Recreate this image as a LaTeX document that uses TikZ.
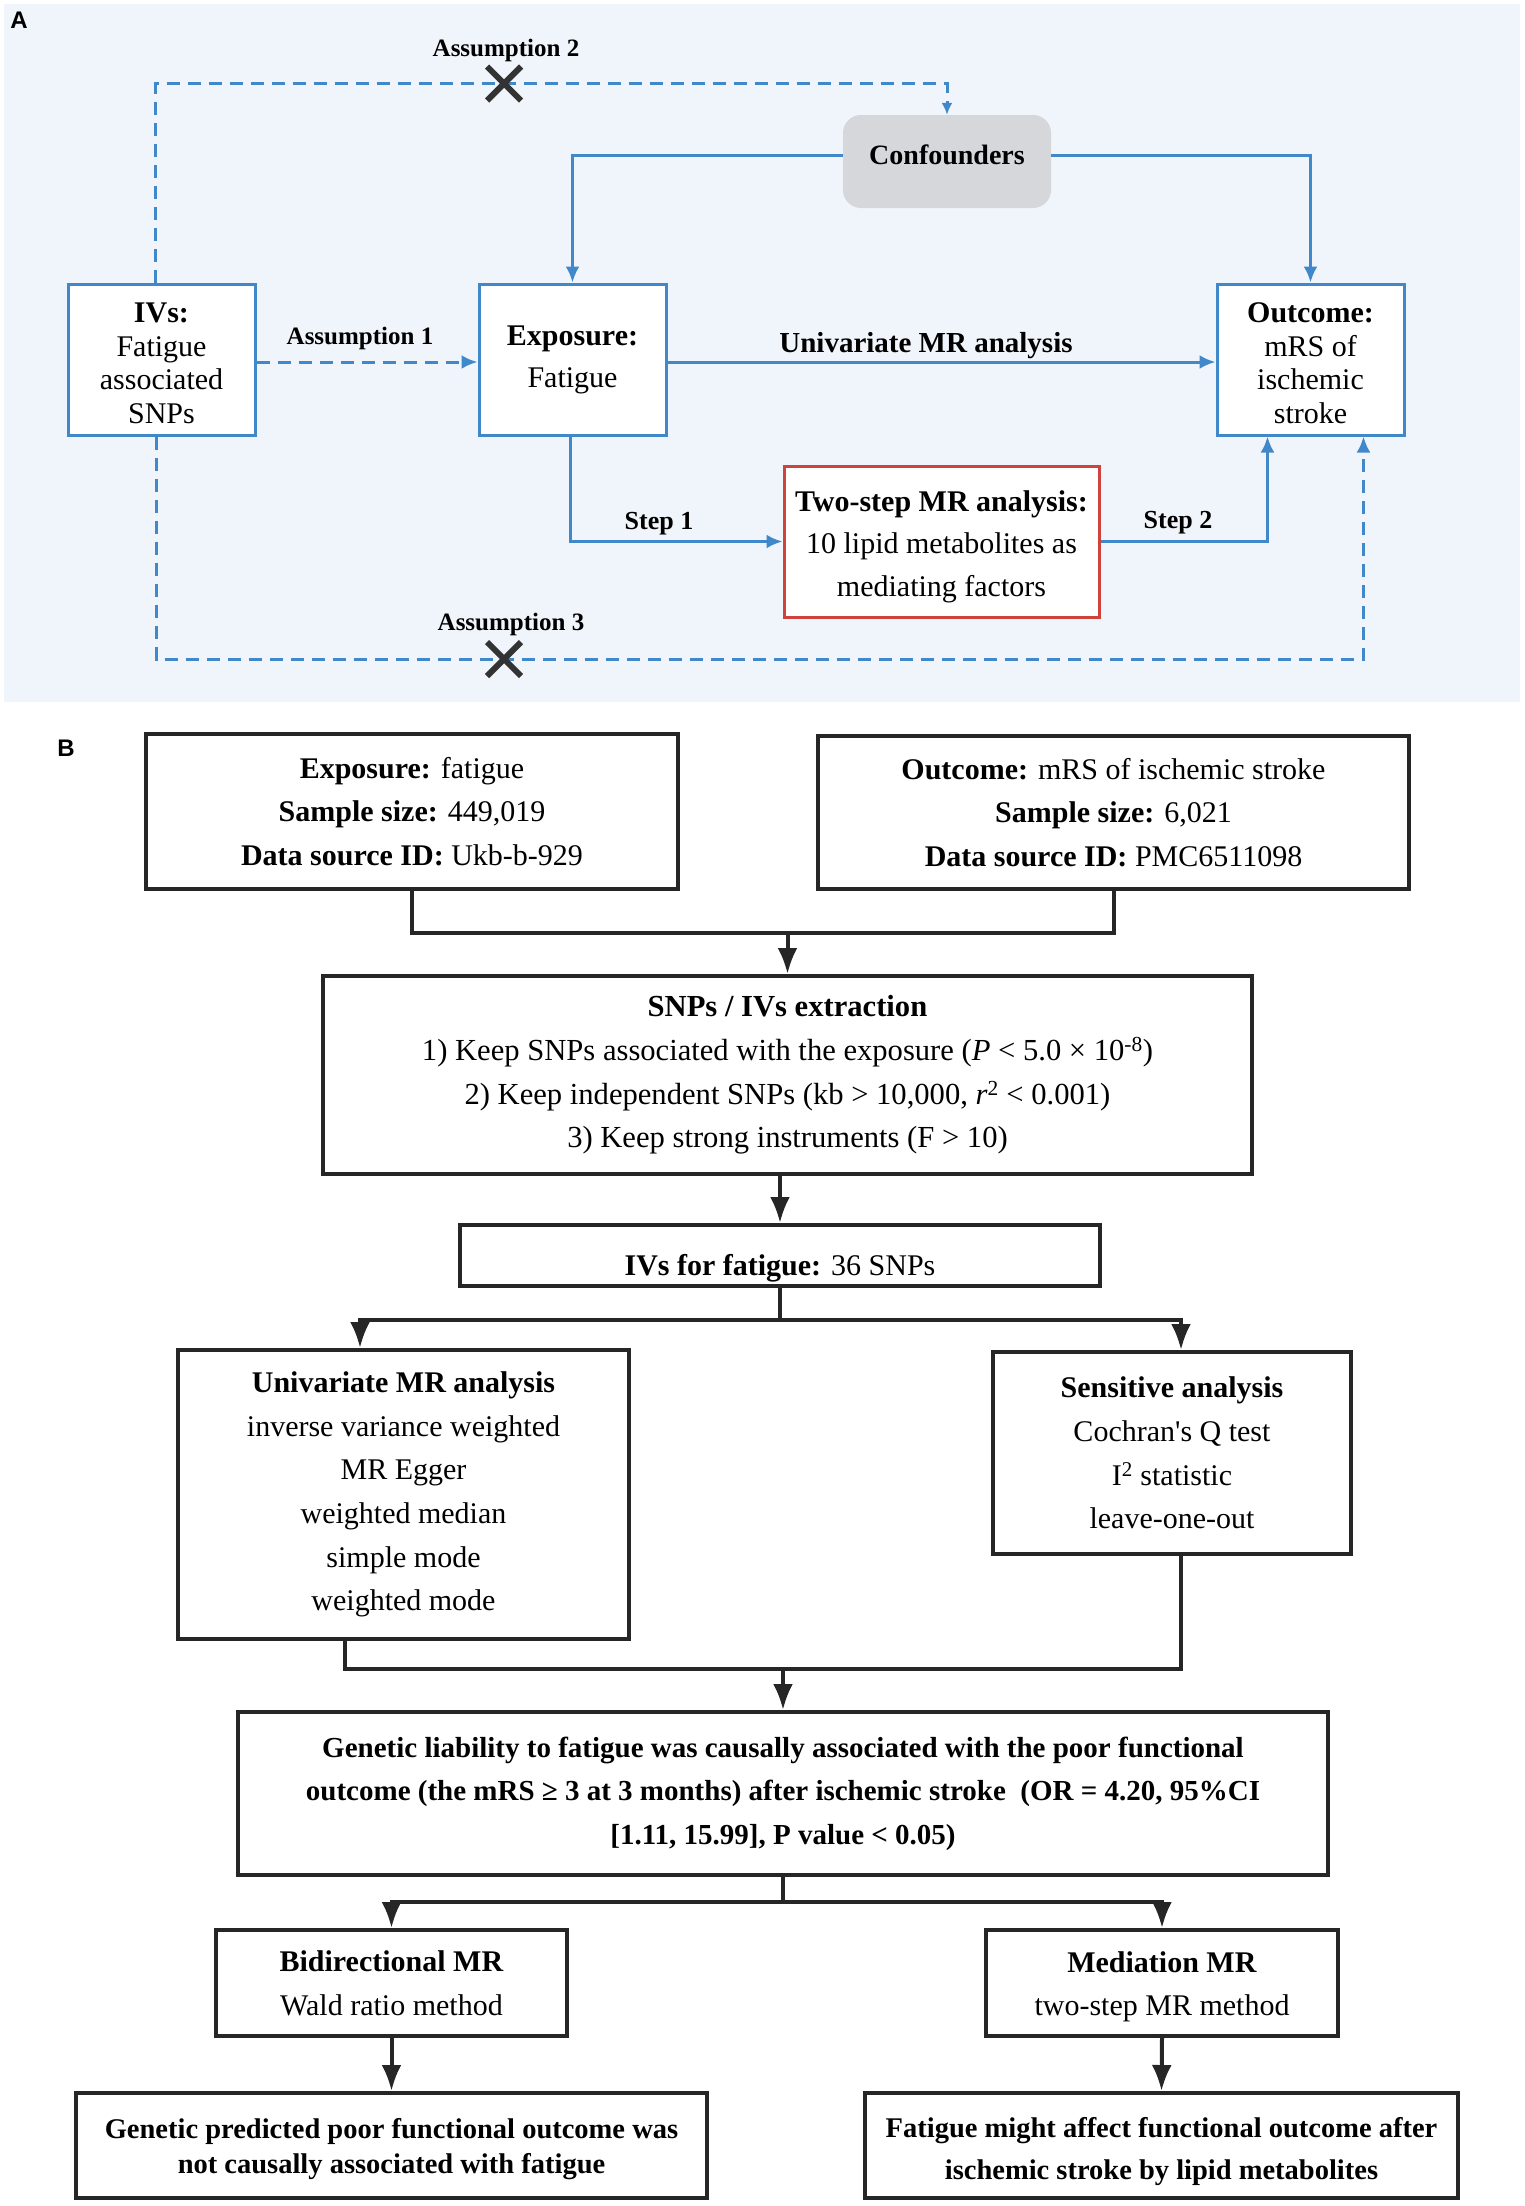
\documentclass[tikz,border=0pt]{standalone}
\usepackage{fontspec}
\setmainfont{Liberation Serif}
\setsansfont{Liberation Sans}
\usetikzlibrary{arrows.meta,shapes.misc}
\definecolor{abg}{HTML}{F0F5FB}
\definecolor{ablue}{HTML}{4088C9}
\definecolor{ared}{HTML}{D0423C}
\definecolor{agray}{HTML}{D5D7DB}
\tikzstyle{line}=[line width=3pt,ablue]
\tikzstyle{arrow}=[line,-{Latex[length=16pt,width=14pt]}]
\tikzstyle{dasharrow}=[arrow,dash pattern=on 13pt off 8pt]
\tikzstyle{abox}=[draw=ablue,line width=3pt,fill=white,align=center,inner sep=0pt,
  font=\fontsize{30}{33.5}\selectfont,minimum width=187pt,minimum height=151pt]
\tikzstyle{alabel}=[inner sep=0pt,font=\bfseries\fontsize{25}{30}\selectfont]
\tikzstyle{xmark}=[draw=black!80,cross out,line width=6pt,minimum size=28pt,inner sep=0pt]
\tikzstyle{panel}=[inner sep=0pt,font=\sffamily\bfseries\fontsize{24}{28}\selectfont]
\tikzstyle{bline}=[line width=4pt,black!85]
\tikzstyle{barrow}=[bline,-{Latex[length=26pt,width=20pt]}]
\tikzstyle{bbox}=[draw=black!85,line width=4pt,align=center,inner sep=0pt,
  font=\fontsize{30}{43.6}\selectfont]
\begin{document}
\begin{tikzpicture}[x=1pt,y=-1pt]
  \useasboundingbox (0,0) rectangle (1524,2206);
  % panel A
  \fill[abg] (4,4) rectangle (1520,702);
  \node[panel] (labA) at (19,20) {A};
  \node[abox] (ivs) at (161.5,359.5) {\rule{0pt}{27pt}\textbf{IVs:}\\Fatigue\\associated\\SNPs};
  \node[abox,font=\fontsize{30}{42}\selectfont] (exp) at (572.5,359.5) {\textbf{Exposure:}\\Fatigue};
  \node[abox] (out) at (1310.5,359.5) {\rule{0pt}{27pt}\textbf{Outcome:}\\mRS of\\ischemic\\stroke};
  \node[fill=agray,rounded corners=18pt,minimum width=208pt,minimum height=93pt,inner sep=0pt,
    font=\bfseries\fontsize{28}{34}\selectfont] (conf) at (947,161.5) {\rule[-13.5pt]{0pt}{13.5pt}Confounders};
  \node[abox,draw=ared,minimum width=315pt,font=\fontsize{30}{42.5}\selectfont] (two) at (941.5,541.5)
    {\rule{0pt}{31pt}\textbf{Two-step MR analysis:}\\10 lipid metabolites as\\mediating factors};
  \coordinate (a2) at (504,83.5);
  \coordinate (a3) at (504,659);
  \draw[arrow] ([yshift=6pt]conf.west) -| (exp.north);
  \draw[arrow] ([yshift=6pt]conf.east) -| (out.north);
  \draw[arrow] ([yshift=-2.5pt]exp.east) -- ([yshift=-2.5pt]out.west);
  \draw[dasharrow] ([yshift=-2.5pt]ivs.east) -- ([yshift=-2.5pt]exp.west);
  \draw[arrow] ([xshift=-2.5pt]exp.south) |- (two.west);
  \draw[arrow] (two.east) -| ([xshift=-43pt]out.south);
  \draw[dasharrow,-{Latex[length=12pt,width=11pt]}] ([xshift=-6pt]ivs.north) |- (a2) -| (conf.north);
  \draw[dasharrow] ([xshift=-5pt]ivs.south) |- (a3) -| ([xshift=53pt]out.south);
  \node[xmark] (x2) at (a2) {};
  \node[xmark] (x3) at (a3) {};
  \node[alabel] (lab2) at (506,50) {Assumption 2};
  \node[alabel] (lab1) at (360,338) {Assumption 1};
  \node[alabel,font=\bfseries\fontsize{29}{32}\selectfont] (labU) at (926,346) {Univariate MR analysis};
  \node[alabel,font=\bfseries\fontsize{26}{30}\selectfont] (labS1) at (659,524) {Step 1};
  \node[alabel,font=\bfseries\fontsize{26}{30}\selectfont] (labS2) at (1178,523) {Step 2};
  \node[alabel] (lab3) at (511,624) {Assumption 3};
  % panel B
  \node[panel] (labB) at (66,748) {B};
  \node[bbox,minimum width=532pt,minimum height=155pt] (bexp) at (412,811.5)
    {\textbf{Exposure:} fatigue\\\textbf{Sample size:} 449,019\\\textbf{Data source ID:} Ukb-b-929};
  \node[bbox,minimum width=591pt,minimum height=153pt] (bout) at (1113.5,812.5)
    {\textbf{Outcome:} mRS of ischemic stroke\\\textbf{Sample size:} 6,021\\\textbf{Data source ID:} PMC6511098};
  \node[bbox,minimum width=929pt,minimum height=198pt,font=\fontsize{30.6}{43.6}\selectfont] (snp) at (787.5,1075)
    {\textbf{SNPs / IVs extraction}\\
     1) Keep SNPs associated with the exposure (\textit{P} < 5.0 × 10\textsuperscript{-8})\\
     2) Keep independent SNPs (kb > 10,000, \textit{r}\textsuperscript{2} < 0.001)\\
     3) Keep strong instruments (F > 10)};
  \node[bbox,minimum width=640pt,minimum height=61pt] (ivf) at (780,1255.5)
    {\rule{0pt}{46pt}\textbf{IVs for fatigue:} 36 SNPs};
  \node[bbox,minimum width=451pt,minimum height=289pt] (uni) at (403.5,1494.5)
    {\textbf{Univariate MR analysis}\\inverse variance weighted\\MR Egger\\weighted median\\simple mode\\weighted mode};
  \node[bbox,minimum width=358pt,minimum height=202pt] (sens) at (1172,1453)
    {\textbf{Sensitive analysis}\\Cochran\textquotesingle s Q test\\I\textsuperscript{2} statistic\\leave-one-out};
  \node[bbox,minimum width=1090pt,minimum height=163pt,font=\bfseries\fontsize{29}{43.6}\selectfont] (gen) at (783,1793.5)
    {Genetic liability to fatigue was causally associated with the poor functional\\
     outcome (the mRS ≥ 3 at 3 months) after ischemic stroke\ \ (OR = 4.20, 95\%CI\\
     {}[1.11, 15.99], P value < 0.05)};
  \node[bbox,minimum width=351pt,minimum height=106pt] (bid) at (391.5,1983)
    {\textbf{Bidirectional MR}\\Wald ratio method};
  \node[bbox,minimum width=352pt,minimum height=106pt] (med) at (1162,1983)
    {\rule{0pt}{28pt}\textbf{Mediation MR}\\two-step MR method};
  \node[bbox,minimum width=631pt,minimum height=105pt,font=\bfseries\fontsize{28.5}{35}\selectfont] (res1) at (391.5,2145.5)
    {\rule{0pt}{27pt}Genetic predicted poor functional outcome was\\not causally associated with fatigue};
  \node[bbox,minimum width=593pt,minimum height=105pt,font=\bfseries\fontsize{28.5}{42}\selectfont] (res2) at (1161.5,2145.5)
    {\rule{0pt}{33pt}Fatigue might affect functional outcome after\\ischemic stroke by lipid metabolites};
  \coordinate (m1) at (787.5,933);
  \coordinate (m2) at (780,1320);
  \coordinate (m3) at (783,1669);
  \coordinate (m4) at (783,1902);
  \draw[bline] (bexp.south) |- (m1) -| (bout.south);
  \draw[barrow] (m1) -- (snp.north);
  \draw[barrow] (ivf.north |- snp.south) -- (ivf.north);
  \draw[bline] (ivf.south) -- (m2);
  \draw[barrow] (m2) -| ([xshift=-43.5pt]uni.north);
  \draw[barrow] (m2) -| ([xshift=9pt]sens.north);
  \draw[bline] ([xshift=-58.5pt]uni.south) |- (m3) -| ([xshift=9pt]sens.south);
  \draw[barrow] (m3) -- (gen.north);
  \draw[bline] (gen.south) -- (m4);
  \draw[barrow] (m4) -| (bid.north);
  \draw[barrow] (m4) -| (med.north);
  \draw[barrow] (bid.south) -- (res1.north);
  \draw[barrow] (med.south) -- (res2.north);
\end{tikzpicture}
\end{document}
